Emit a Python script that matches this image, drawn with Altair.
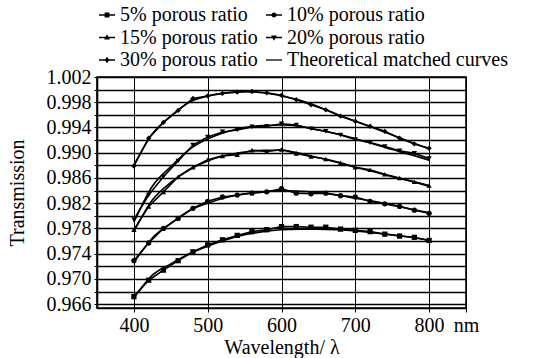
import altair as alt
import pandas as pd

# ---------------- data ----------------
wavelength = [400, 420, 440, 460, 480, 500, 520, 540, 560, 580, 600,
              620, 640, 660, 680, 700, 720, 740, 760, 780, 800]

t5 = [0.9672, 0.9698, 0.9714, 0.9729, 0.9743, 0.9754, 0.9762, 0.9769, 0.9775, 0.9778, 0.9783,
      0.9783, 0.9782, 0.9782, 0.9779, 0.9777, 0.9775, 0.9771, 0.9768, 0.9766, 0.9761]
t10 = [0.9729, 0.9757, 0.9780, 0.9796, 0.9812, 0.9823, 0.9830, 0.9833, 0.9836, 0.9838, 0.9843,
       0.9836, 0.9835, 0.9836, 0.9832, 0.9830, 0.9823, 0.9819, 0.9815, 0.9809, 0.9804]
t15 = [0.9778, 0.9815, 0.9838, 0.9862, 0.9877, 0.9889, 0.9895, 0.9897, 0.9904, 0.9902, 0.9905,
       0.9899, 0.9894, 0.9890, 0.9884, 0.9877, 0.9873, 0.9866, 0.9860, 0.9854, 0.9848]
t20 = [0.9794, 0.9833, 0.9862, 0.9887, 0.9912, 0.9925, 0.9933, 0.9936, 0.9941, 0.9942, 0.9946,
       0.9944, 0.9938, 0.9934, 0.9928, 0.9921, 0.9916, 0.9910, 0.9903, 0.9899, 0.9891]
t30 = [0.9879, 0.9923, 0.9948, 0.9967, 0.9986, 0.9990, 0.9994, 0.9996, 0.9997, 0.9995, 0.9991,
       0.9984, 0.9976, 0.9968, 0.9958, 0.9950, 0.9942, 0.9934, 0.9923, 0.9914, 0.9907]

theory_wl = [400, 425, 450, 475, 500, 525, 550, 575, 600, 625, 650, 675, 700, 725, 750, 775, 800]
th5 = [0.9670, 0.9706, 0.9724, 0.9740, 0.9752, 0.9762, 0.9770, 0.9775, 0.9778,
       0.9779, 0.9779, 0.9778, 0.9776, 0.9773, 0.9770, 0.9766, 0.9761]
th10 = [0.9726, 0.9765, 0.9788, 0.9808, 0.9820, 0.9829, 0.9835, 0.9838, 0.9840,
        0.9839, 0.9837, 0.9833, 0.9828, 0.9823, 0.9817, 0.9811, 0.9805]
th15 = [0.9775, 0.9825, 0.9853, 0.9873, 0.9887, 0.9896, 0.9901, 0.9904, 0.9904,
        0.9899, 0.9892, 0.9885, 0.9877, 0.9870, 0.9862, 0.9855, 0.9847]
th20 = [0.9790, 0.9847, 0.9878, 0.9905, 0.9922, 0.9933, 0.9940, 0.9943, 0.9944,
        0.9942, 0.9936, 0.9930, 0.9922, 0.9914, 0.9905, 0.9897, 0.9888]
th30 = [0.9880, 0.9930, 0.9958, 0.9980, 0.9990, 0.9995, 0.9997, 0.9995, 0.9990,
        0.9983, 0.9973, 0.9961, 0.9950, 0.9939, 0.9928, 0.9917, 0.9906]

series_names = ["5% porous ratio", "10% porous ratio", "15% porous ratio",
                "20% porous ratio", "30% porous ratio"]
theory_name = "Theoretical matched curves"

x_ticks = [400, 500, 600, 700, 800, 850]
y_ticks = [0.966, 0.968, 0.970, 0.972, 0.974, 0.976, 0.978, 0.980, 0.982, 0.984,
           0.986, 0.988, 0.990, 0.992, 0.994, 0.996, 0.998, 1.000, 1.002]

# ---------------- tables ----------------
meas_rows = []
for name, vals in zip(series_names, [t5, t10, t15, t20, t30]):
    for w, v in zip(wavelength, vals):
        meas_rows.append({"series": name, "wl": w, "T": v})
meas = pd.DataFrame(meas_rows)

theo_rows = []
for name, vals in zip(series_names, [th5, th10, th15, th20, th30]):
    for w, v in zip(theory_wl, vals):
        theo_rows.append({"series": name, "wl": w, "T": v})
theo = pd.DataFrame(theo_rows)

legend_names = series_names + [theory_name]
legend_df = pd.DataFrame({"series": legend_names, "wl": [600] * 6, "T": [0.98] * 6})

FONT = "Liberation Serif"
FS = 20

marker_shapes = ["square", "circle", "triangle-up", "triangle-down", "diamond"]
# legend glyphs: a short filled bar (the line) plus the marker, all drawn clockwise
BAR = "M-1,-0.08L1,-0.08L1,0.08L-1,0.08Z"
legend_paths = [
    BAR + "M-0.3,-0.3L0.3,-0.3L0.3,0.3L-0.3,0.3Z",
    BAR + "M-0.32,0A0.32,0.32 0 1,1 0.32,0A0.32,0.32 0 1,1 -0.32,0Z",
    BAR + "M0,-0.42L0.36,0.26L-0.36,0.26Z",
    BAR + "M0,0.42L-0.36,-0.26L0.36,-0.26Z",
    BAR + "M0,-0.42L0.3,0L0,0.42L-0.3,0Z",
    BAR,
]

x_enc = alt.X(
    "wl:Q",
    scale=alt.Scale(domain=[350, 850], nice=False, zero=False),
    axis=alt.Axis(
        values=x_ticks, tickCount=50, format="d", labelOverlap=False, labelFlush=False,
        labelExpr="datum.value == 850 ? '\u00a0nm' : datum.label",
        title="Wavelength/ \u03bb", grid=True, gridWidth=1,
        tickSize=4, labelPadding=3, titlePadding=2,
    ),
)
y_enc = alt.Y(
    "T:Q",
    scale=alt.Scale(domain=[0.9654, 1.002], nice=False, zero=False),
    axis=alt.Axis(
        values=y_ticks, tickCount=50, labelOverlap=False, labelFlush=False,
        labelExpr="round(datum.value*1000) % 4 == 2 ? format(datum.value, '.3f') : ''",
        title="Transmission", grid=True, gridWidth=1.6,
        tickSize=3, labelPadding=3, titlePadding=19,
    ),
)

meas_lines = alt.Chart(meas).mark_line(color="black", strokeWidth=1.6).encode(
    x=x_enc, y=y_enc, detail="series:N"
)
theo_lines = alt.Chart(theo).mark_line(
    color="black", strokeWidth=1.6, interpolate="monotone"
).encode(x="wl:Q", y="T:Q", detail="series:N")
points = alt.Chart(meas).mark_point(filled=True, color="black", size=28, opacity=1).encode(
    x="wl:Q", y="T:Q",
    shape=alt.Shape("series:N",
                    scale=alt.Scale(domain=series_names, range=marker_shapes),
                    legend=None),
)
legend_layer = alt.Chart(legend_df).transform_filter("false").mark_point(
    filled=True, color="black", opacity=1, size=256
).encode(
    x="wl:Q", y="T:Q",
    shape=alt.Shape(
        "series:N",
        scale=alt.Scale(domain=legend_names, range=legend_paths),
        legend=alt.Legend(
            orient="none", legendX=0, legendY=-72, columns=2, direction="horizontal",
            columnPadding=5, rowPadding=2.5, padding=0, title=None,
            labelFont=FONT, labelFontSize=FS, labelColor="black", labelOffset=3,
            symbolSize=256, symbolFillColor="black", symbolOpacity=1, labelLimit=400,
        ),
    ),
)

chart = (
    alt.layer(meas_lines, theo_lines, points, legend_layer)
    .resolve_scale(shape="independent")
    .properties(
        width=369, height=231,
        autosize=alt.AutoSizeParams(type="none"),
        padding={"left": 97, "top": 77, "right": 76, "bottom": 50},
        background="white",
    )
    .configure_view(stroke="black", strokeWidth=1.6)
    .configure_axis(
        labelFont=FONT, labelFontSize=FS, labelColor="black",
        titleFont=FONT, titleFontSize=FS, titleFontWeight="normal", titleColor="black",
        gridColor="black", gridOpacity=1, domainColor="black", domainWidth=1.6,
        tickColor="black",
    )
    .configure_legend(labelFont=FONT, labelFontSize=FS, labelColor="black")
)

chart.save("out.html", embed_options={"renderer": "svg", "actions": False})
